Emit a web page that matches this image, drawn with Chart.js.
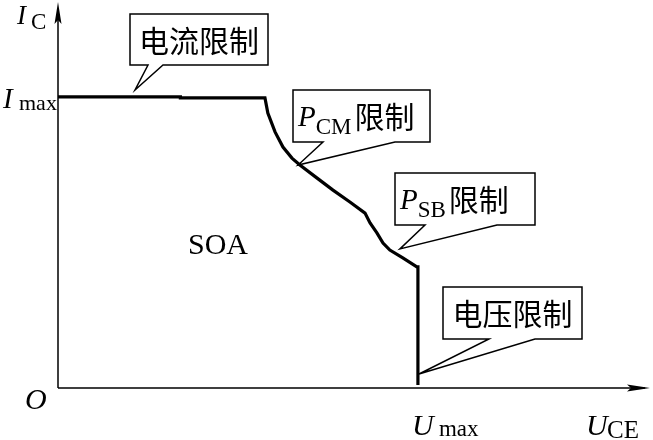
<!DOCTYPE html>
<html>
<head>
<meta charset="utf-8">
<script src="https://cdn.jsdelivr.net/npm/chart.js@4"></script>
<style>
html,body{margin:0;padding:0;background:#fff;}
#wrap{width:653px;height:440px;}
</style>
</head>
<body>
<div id="wrap"><canvas id="c" width="653" height="440"></canvas></div>
<script>
// SOA boundary: U_CE (relative to Umax) and I_C (relative to Imax)
const uce = [0, 0.34, 0.34, 0.575, 0.583, 0.603, 0.625, 0.650, 0.672, 0.719, 0.764, 0.811, 0.853, 0.867, 0.886, 0.903, 0.922, 0.958, 0.997, 1.0, 1.0];
const ic  = [1.0, 1.0, 0.997, 0.997, 0.945, 0.880, 0.828, 0.790, 0.766, 0.722, 0.680, 0.639, 0.601, 0.567, 0.533, 0.498, 0.474, 0.447, 0.416, 0.416, 0.01];
// callout labels and the boundary points they point at
const calloutMain = ["电流限制", "限制", "限制", "电压限制"];
const calloutSub  = [null, ["P", "CM"], ["P", "SB"], null];
const calloutTipU = [0.214, 0.667, 0.95, 1.003];
const calloutTipI = [1.024, 0.766, 0.478, 0.048];
const regionLabel = "SOA";

const serif = '"Liberation Serif", "DejaVu Serif", serif';
const cjk = '"Noto Sans CJK SC", sans-serif';

// box geometry (layout only)
const boxes = [
  {l:130, t:14, r:268, b:65, b1:148, b2:163},
  {l:293, t:90, r:430, b:142, b1:323, b2:395},
  {l:395, t:173, r:535, b:225, b1:425, b2:497},
  {l:443, t:287, r:582, b:339, b1:489, b2:535}
];

const overlay = {
  id: 'overlay',
  afterDatasetsDraw(chart) {
    const ctx = chart.ctx;
    const xs = chart.scales.x, ys = chart.scales.y;
    const x0 = xs.getPixelForValue(0), y0 = ys.getPixelForValue(0);
    ctx.save();
    ctx.strokeStyle = '#000'; ctx.fillStyle = '#000';
    ctx.lineWidth = 1.5;
    // axes
    ctx.beginPath();
    ctx.moveTo(x0, y0); ctx.lineTo(x0, 8);
    ctx.moveTo(x0, y0); ctx.lineTo(645, y0);
    ctx.stroke();
    // arrow heads
    ctx.beginPath();
    ctx.moveTo(x0, 2); ctx.lineTo(x0 - 3.5, 24); ctx.lineTo(x0, 20); ctx.lineTo(x0 + 3.5, 24); ctx.closePath(); ctx.fill();
    ctx.beginPath();
    ctx.moveTo(650, y0); ctx.lineTo(627, y0 - 3.5); ctx.lineTo(631, y0); ctx.lineTo(627, y0 + 3.5); ctx.closePath(); ctx.fill();

    // axis labels
    ctx.textBaseline = 'alphabetic'; ctx.textAlign = 'left';
    const yImax = ys.getPixelForValue(1);
    const xUmax = xs.getPixelForValue(1);
    ctx.font = 'italic 27px ' + serif; ctx.fillText('I', 17, 24);
    ctx.font = '23px ' + serif; ctx.fillText('C', 31, 29);
    ctx.font = 'italic 29px ' + serif; ctx.fillText('I', 3, yImax + 11);
    ctx.font = '22px ' + serif; ctx.fillText('max', 19, yImax + 13);
    ctx.font = 'italic 30px ' + serif; ctx.fillText('O', 25, y0 + 21);
    ctx.font = 'italic 30px ' + serif; ctx.fillText('U', xUmax - 6, y0 + 47);
    ctx.font = '23px ' + serif; ctx.fillText('max', xUmax + 21, y0 + 48);
    ctx.font = 'italic 30px ' + serif; ctx.fillText('U', 586, y0 + 47);
    ctx.font = '25px ' + serif; ctx.fillText('CE', 607, y0 + 50);
    ctx.font = '30px ' + serif; ctx.fillText(regionLabel, 188, 254);

    // callouts
    boxes.forEach((bx, k) => {
      const tx = xs.getPixelForValue(calloutTipU[k]);
      const ty = ys.getPixelForValue(calloutTipI[k]);
      ctx.beginPath();
      ctx.moveTo(bx.l, bx.t); ctx.lineTo(bx.r, bx.t); ctx.lineTo(bx.r, bx.b);
      ctx.lineTo(bx.b2, bx.b); ctx.lineTo(tx, ty); ctx.lineTo(bx.b1, bx.b);
      ctx.lineTo(bx.l, bx.b); ctx.closePath();
      ctx.fillStyle = '#fff'; ctx.fill();
      ctx.lineWidth = 1.5; ctx.strokeStyle = '#000'; ctx.stroke();
      ctx.fillStyle = '#000';
      const cy = (bx.t + bx.b) / 2 + 1;
      if (calloutSub[k]) {
        const [p, s] = calloutSub[k];
        ctx.textBaseline = 'alphabetic'; ctx.textAlign = 'left';
        ctx.font = 'italic 29px ' + serif;
        const px = bx.l + 5;
        ctx.fillText(p, px, cy + 9);
        const pw = ctx.measureText(p).width;
        ctx.font = '23px ' + serif;
        ctx.fillText(s, px + pw, cy + 17);
        const sw = ctx.measureText(s).width;
        ctx.font = '30px ' + cjk; ctx.textBaseline = 'middle';
        ctx.fillText(calloutMain[k], px + pw + sw + 3, cy);
      } else {
        ctx.font = '30px ' + cjk; ctx.textBaseline = 'middle'; ctx.textAlign = 'center';
        ctx.fillText(calloutMain[k], (bx.l + bx.r) / 2, cy);
      }
    });
    ctx.restore();
  }
};

new Chart(document.getElementById('c'), {
  type: 'scatter',
  data: {
    datasets: [{
      data: uce.map((u, k) => ({x: u, y: ic[k]})),
      showLine: true,
      borderColor: '#000',
      borderWidth: 3.2,
      pointRadius: 0,
      tension: 0,
      fill: false
    }]
  },
  options: {
    responsive: false,
    animation: false,
    events: [],
    layout: {padding: {left: 58, right: 13, top: 5, bottom: 52}},
    plugins: {legend: {display: false}, tooltip: {enabled: false}},
    scales: {
      x: {type: 'linear', display: false, min: 0, max: 1.617},
      y: {type: 'linear', display: false, min: 0, max: 1.316}
    }
  },
  plugins: [overlay]
});
</script>
</body>
</html>
